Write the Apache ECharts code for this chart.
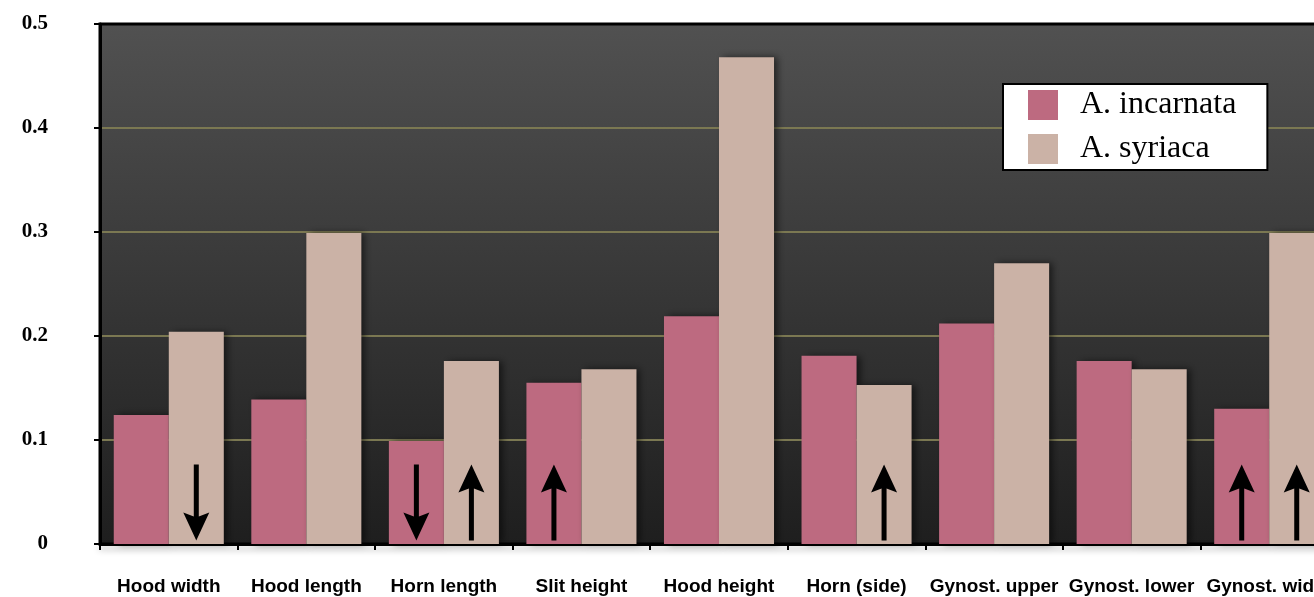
<!DOCTYPE html>
<html>
<head>
	<meta charset="utf-8">
	<title>Hood and gynostegium measurements</title>
	<script src="https://cdn.jsdelivr.net/npm/echarts@6/dist/echarts.min.js"></script>
	<style>
		html, body { margin: 0; padding: 0; background: #fff; overflow: hidden; }
	</style>
</head>
<body>
	<!-- the plot runs past the right edge of the window, like the cropped original -->
	<div id="container" style="width: 1338px;height:597px;"></div>

	<script type="text/javascript">

	var categories = ['Hood width', 'Hood length', 'Horn length', 'Slit height', 'Hood height',
		'Horn (side)', 'Gynost. upper', 'Gynost. lower', 'Gynost. width'];
	var incarnata = [0.124, 0.139, 0.099, 0.155, 0.219, 0.181, 0.212, 0.176, 0.130];
	var syriaca   = [0.204, 0.299, 0.176, 0.168, 0.468, 0.153, 0.270, 0.168, 0.299];
	var yTicks = [0, 0.1, 0.2, 0.3, 0.4, 0.5];

	// arrows drawn inside bars: [category, direction]
	var arrowsIncarnata = [['Horn length', 'down'], ['Slit height', 'up'], ['Gynost. width', 'up']];
	var arrowsSyriaca = [['Hood width', 'down'], ['Horn length', 'up'], ['Horn (side)', 'up'], ['Gynost. width', 'up']];
	var arrowLevel = 0.04;

	var arrowPath = 'path://M13,0 L26,28 L15.5,24 L15.5,76 L10.5,76 L10.5,24 L0,28 Z';

	function arrowMarks(list)
	{
		var out = [];
		for (var i = 0; i < list.length; i++)
		{
			out.push({
				coord: [list[i][0], arrowLevel],
				symbolRotate: list[i][1] == 'down' ? 180 : 0
			});
		}
		return out;
	}

	function barSeries(name, values, color, arrows)
	{
		return {
			name: name,
			type: 'bar',
			data: values,
			barGap: '0%',
			barCategoryGap: '20%',
			itemStyle: {
				color: color,
				shadowBlur: 7,
				shadowColor: 'rgba(0,0,0,0.55)',
				shadowOffsetX: 4
			},
			markPoint: {
				symbol: arrowPath,
				symbolSize: [26, 76],
				symbolKeepAspect: false,
				label: { show: false },
				itemStyle: { color: '#000', shadowBlur: 0 },
				data: arrowMarks(arrows)
			}
		};
	}

	var myChart = echarts.init(document.getElementById('container'));
	myChart.setOption({
		animation: false,
		grid: {
			left: 100,
			top: 24,
			bottom: 53,
			right: 0,
			show: true,
			borderColor: '#000',
			borderWidth: 3,
			backgroundColor: {
				type: 'linear', x: 0, y: 0, x2: 0, y2: 1,
				colorStops: [
					{ offset: 0, color: '#515151' },
					{ offset: 1, color: '#1e1e1e' }
				]
			}
		},
		legend: {
			orient: 'vertical',
			left: 1003,
			top: 84,
			icon: 'rect',
			itemWidth: 30,
			itemHeight: 30,
			itemGap: 12,
			padding: [5, 31, 5, 25],
			backgroundColor: '#fff',
			borderColor: '#000',
			borderWidth: 2,
			itemStyle: { shadowBlur: 0, shadowOffsetX: 0 },
			textStyle: {
				fontFamily: 'Liberation Serif',
				fontSize: 32,
				lineHeight: 30,
				color: '#000',
				padding: [0, 0, 0, 17]
			},
			data: ['A. incarnata', 'A. syriaca']
		},
		xAxis: {
			type: 'category',
			data: categories,
			axisLine: {
				lineStyle: {
					color: '#000', width: 3,
					shadowColor: 'rgba(0,0,0,0.25)', shadowBlur: 6, shadowOffsetY: 4
				}
			},
			axisTick: { show: true, length: 6, lineStyle: { color: '#000', width: 2 } },
			axisLabel: {
				margin: 33,
				interval: 0,
				fontFamily: 'Liberation Sans',
				fontWeight: 'bold',
				fontSize: 19,
				color: '#000'
			}
		},
		yAxis: {
			type: 'value',
			min: yTicks[0],
			max: yTicks[yTicks.length - 1],
			interval: 0.1,
			axisLine: { show: true, lineStyle: { color: '#000', width: 3 } },
			axisTick: { show: true, length: 6, lineStyle: { color: '#000', width: 2 } },
			splitLine: {
				showMinLine: false,
				showMaxLine: false,
				lineStyle: { color: '#7b7852', width: 2 }
			},
			axisLabel: {
				margin: 52,
				fontFamily: 'Liberation Serif',
				fontWeight: 'bold',
				fontSize: 21,
				color: '#000',
				formatter: function (v) { return v == 0 ? '0' : v.toFixed(1); }
			}
		},
		series: [
			barSeries('A. incarnata', incarnata, '#bd6a80', arrowsIncarnata),
			barSeries('A. syriaca', syriaca, '#cbb2a6', arrowsSyriaca)
		]
	});

	</script>
</body>
</html>
